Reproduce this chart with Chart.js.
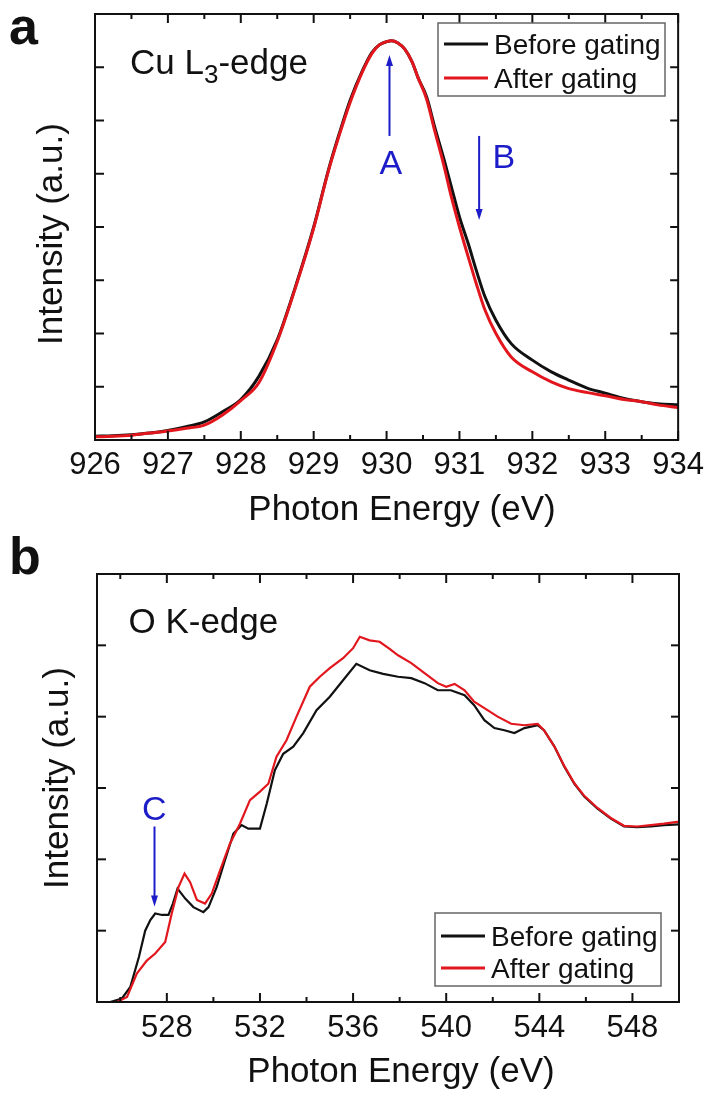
<!DOCTYPE html>
<html>
<head>
<meta charset="utf-8">
<script src="https://cdn.jsdelivr.net/npm/chart.js@4.4.1/dist/chart.umd.min.js"></script>
<style>
  html, body { margin: 0; padding: 0; background: #fff; }
  #wrap { position: relative; width: 711px; height: 1095px; }
  .panel { position: absolute; left: 0; width: 711px; }
  #pa { top: 0; height: 535px; }
  #pb { top: 535px; height: 560px; }
</style>
</head>
<body>
<div id="wrap">
  <div class="panel" id="pa"><canvas id="ca" width="711" height="535"></canvas></div>
  <div class="panel" id="pb"><canvas id="cb" width="711" height="560"></canvas></div>
</div>
<script>
// Panel a: Cu L3-edge
const ENERGY_A = [926.0, 926.25, 926.5, 926.75, 927.0, 927.25, 927.5, 927.75, 928.0, 928.25, 928.5, 928.75,
  929.0, 929.2, 929.35, 929.5, 929.67, 929.8, 929.9, 930.0, 930.07, 930.15, 930.25, 930.35, 930.43, 930.55,
  930.66, 930.78, 930.89, 931.0, 931.12, 931.23, 931.35, 931.5, 931.71, 932.0, 932.26, 932.49, 932.76, 933.0,
  933.26, 933.5, 933.72, 934.0];
const BEFORE_A = [0.07, 0.08, 0.10, 0.13, 0.18, 0.25, 0.34, 0.53, 0.76, 1.2, 1.88, 2.88,
  4.0, 5.06, 5.75, 6.38, 6.94, 7.28, 7.42, 7.48, 7.5, 7.46, 7.34, 7.1, 6.81, 6.44,
  5.88, 5.31, 4.75, 4.19, 3.69, 3.19, 2.69, 2.25, 1.81, 1.5, 1.28, 1.13, 0.97, 0.88,
  0.78, 0.72, 0.68, 0.66];
const AFTER_A = [0.06, 0.07, 0.09, 0.13, 0.17, 0.22, 0.28, 0.47, 0.74, 1.08, 1.85, 2.86,
  3.98, 5.04, 5.72, 6.34, 6.92, 7.26, 7.42, 7.48, 7.5, 7.46, 7.34, 7.1, 6.81, 6.4,
  5.81, 5.19, 4.56, 4.0, 3.44, 2.94, 2.44, 2.0, 1.56, 1.28, 1.09, 0.97, 0.89, 0.83,
  0.76, 0.72, 0.66, 0.61];
const X_MAJOR_A = [926, 927, 928, 929, 930, 931, 932, 933, 934];
const X_MINOR_A = [926.5, 927.5, 928.5, 929.5, 930.5, 931.5, 932.5, 933.5];
const Y_TICKS_A = [1, 2, 3, 4, 5, 6, 7];

// Panel b: O K-edge
const ENERGY_B_BEFORE = [525.0, 525.57, 526.07, 526.43, 526.8, 527.07, 527.29, 527.5, 527.79, 528.07, 528.26,
  528.46, 528.79, 529.14, 529.57, 529.79, 530.14, 530.5, 530.86, 531.21, 531.5, 532.0, 532.29, 532.64, 533.0,
  533.43, 533.86, 534.43, 535.0, 535.57, 536.14, 536.71, 537.29, 537.93, 538.5, 539.07, 539.64, 540.2, 540.79,
  541.2, 541.64, 542.07, 542.5, 542.93, 543.36, 543.93, 544.2, 544.65, 545.07, 545.5, 545.93, 546.5, 547.07,
  547.64, 548.2, 548.79, 549.36, 550.0];
const BEFORE_B = [0, 0, 0.05, 0.21, 0.63, 1.0, 1.15, 1.24, 1.22, 1.22, 1.38,
  1.59, 1.45, 1.33, 1.26, 1.33, 1.61, 1.99, 2.36, 2.48, 2.43, 2.43, 2.78, 3.25, 3.48,
  3.58, 3.77, 4.09, 4.28, 4.51, 4.74, 4.65, 4.6, 4.56, 4.54, 4.47, 4.37, 4.37, 4.3,
  4.16, 3.95, 3.84, 3.81, 3.77, 3.84, 3.88, 3.81, 3.58, 3.3, 3.06, 2.88, 2.71, 2.57,
  2.46, 2.45, 2.46, 2.48, 2.49];
const ENERGY_B_AFTER = [525.0, 525.86, 526.29, 526.71, 527.14, 527.5, 527.93, 528.21, 528.5, 528.76, 529.0,
  529.29, 529.64, 529.93, 530.29, 530.71, 531.14, 531.57, 532.0, 532.36, 532.71, 533.14, 533.57, 534.14,
  534.57, 535.0, 535.57, 536.0, 536.29, 536.71, 537.14, 537.57, 537.93, 538.5, 539.07, 539.64, 540.0, 540.36,
  540.79, 541.2, 541.64, 542.21, 542.79, 543.36, 543.93, 544.2, 544.65, 545.07, 545.5, 545.93, 546.5, 547.07,
  547.64, 548.2, 548.79, 549.36, 550.0];
const AFTER_B = [0, 0, 0.07, 0.4, 0.58, 0.68, 0.84, 1.24, 1.61, 1.8, 1.68,
  1.43, 1.38, 1.52, 1.85, 2.22, 2.5, 2.83, 2.95, 3.06, 3.44, 3.67, 4.0, 4.42,
  4.56, 4.68, 4.82, 4.96, 5.12, 5.07, 5.05, 4.95, 4.86, 4.75, 4.61, 4.47, 4.42, 4.46,
  4.37, 4.21, 4.12, 4.0, 3.9, 3.88, 3.9, 3.81, 3.58, 3.31, 3.07, 2.89, 2.72, 2.58,
  2.47, 2.46, 2.48, 2.5, 2.53];
const X_MAJOR_B = [528, 532, 536, 540, 544, 548];
const X_MINOR_B = [526, 530, 534, 538, 542, 546];
const Y_TICKS_B = [1, 2, 3, 4, 5];

const FONT = '"Liberation Sans", Arial, Helvetica, sans-serif';
const INK = '#111111';
const RED = '#e2171e';
const BLUE = '#1c1cc8';

const zip = (xs, ys) => xs.map((x, i) => ({ x, y: ys[i] }));

// axes box, inward ticks, titles, legend, arrows and labels
const framePlugin = {
  id: 'frame',
  afterDraw(chart, args, o) {
    const { ctx, chartArea: a, scales: { x, y } } = chart;
    ctx.save();
    ctx.strokeStyle = INK;
    ctx.lineWidth = 2;
    ctx.strokeRect(a.left, a.top, a.right - a.left, a.bottom - a.top);

    const tick = (px, py, dx, dy) => {
      ctx.beginPath();
      ctx.moveTo(px, py);
      ctx.lineTo(px + dx, py + dy);
      ctx.stroke();
    };
    o.xMajor.forEach((v) => {
      const px = x.getPixelForValue(v);
      tick(px, a.bottom, 0, -9);
      tick(px, a.top, 0, 9);
    });
    o.xMinor.forEach((v) => {
      const px = x.getPixelForValue(v);
      tick(px, a.bottom, 0, -5);
      tick(px, a.top, 0, 5);
    });
    o.yTicks.forEach((v) => {
      const py = y.getPixelForValue(v);
      tick(a.left, py, 9, 0);
      tick(a.right, py, -8, 0);
    });

    // axis titles
    ctx.fillStyle = INK;
    ctx.font = `35px ${FONT}`;
    ctx.textAlign = 'center';
    ctx.textBaseline = 'middle';
    ctx.fillText('Photon Energy (eV)', o.xTitle[0], o.xTitle[1]);
    ctx.save();
    ctx.translate(o.yTitle[0], o.yTitle[1]);
    ctx.rotate(-Math.PI / 2);
    ctx.fillText('Intensity (a.u.)', 0, 0);
    ctx.restore();

    // panel letter
    ctx.font = `bold 52px ${FONT}`;
    ctx.textBaseline = 'alphabetic';
    ctx.textAlign = 'left';
    ctx.fillText(o.letter, o.letterPos[0], o.letterPos[1]);

    // edge label, with optional subscript
    const lx = x.getPixelForValue(o.edge.x);
    const ly = y.getPixelForValue(o.edge.y);
    let cx = lx;
    o.edge.parts.forEach((p) => {
      ctx.font = p.sub ? `26px ${FONT}` : `35px ${FONT}`;
      ctx.fillText(p.t, cx, ly + (p.sub ? 9 : 0));
      cx += ctx.measureText(p.t).width;
    });

    // arrows
    ctx.strokeStyle = BLUE;
    ctx.fillStyle = BLUE;
    ctx.lineWidth = 2;
    o.arrows.forEach((ar) => {
      const px = x.getPixelForValue(ar.x);
      const p0 = y.getPixelForValue(ar.from);
      const p1 = y.getPixelForValue(ar.to);
      const dir = p1 < p0 ? -1 : 1;
      ctx.beginPath();
      ctx.moveTo(px, p0);
      ctx.lineTo(px, p1 - dir * 9);
      ctx.stroke();
      ctx.beginPath();
      ctx.moveTo(px, p1);
      ctx.lineTo(px - 3.5, p1 - dir * 11);
      ctx.lineTo(px + 3.5, p1 - dir * 11);
      ctx.closePath();
      ctx.fill();
    });
    ctx.font = `34px ${FONT}`;
    ctx.textAlign = 'center';
    o.marks.forEach((m) => {
      ctx.fillText(m.t, x.getPixelForValue(m.x), y.getPixelForValue(m.y) + 12);
    });

    // legend
    const L = o.legend;
    ctx.strokeStyle = '#666';
    ctx.lineWidth = 1.5;
    ctx.strokeRect(L.left, L.top, L.w, L.h);
    ctx.textAlign = 'left';
    ctx.font = `28px ${FONT}`;
    chart.data.datasets.forEach((ds, i) => {
      const ry = L.top + L.rows[i];
      ctx.strokeStyle = ds.borderColor;
      ctx.lineWidth = 3;
      ctx.beginPath();
      ctx.moveTo(L.left + 6, ry);
      ctx.lineTo(L.left + 50, ry);
      ctx.stroke();
      ctx.fillStyle = INK;
      ctx.fillText(ds.label, L.left + 56, ry + 10);
    });
    ctx.restore();
  },
};

function makePanel(canvas, p) {
  return new Chart(canvas, {
    type: 'line',
    data: {
      datasets: [
        { label: 'Before gating', data: p.before, borderColor: INK, borderWidth: p.lw, order: 2 },
        { label: 'After gating', data: p.after, borderColor: RED, borderWidth: p.lw, order: 1 },
      ],
    },
    options: {
      responsive: false,
      animation: false,
      events: [],
      elements: {
        point: { radius: 0 },
        line: { tension: p.tension, cubicInterpolationMode: p.mode, fill: false },
      },
      layout: { padding: p.pad },
      plugins: {
        legend: { display: false },
        tooltip: { enabled: false },
        frame: p.frame,
      },
      scales: {
        x: {
          type: 'linear',
          min: p.xmin,
          max: p.xmax,
          grid: { display: false, drawTicks: false },
          border: { display: false },
          afterBuildTicks: (s) => { s.ticks = p.frame.xMajor.map((v) => ({ value: v })); },
          afterFit: (s) => { s.height = p.xh; },
          ticks: {
            color: INK,
            font: { family: FONT, size: 31 },
            padding: p.tickPad,
            maxRotation: 0,
            autoSkip: false,
            callback: (v) => String(v),
          },
        },
        y: {
          min: 0,
          max: p.ymax,
          grid: { display: false, drawTicks: false },
          border: { display: false },
          ticks: { display: false },
          afterFit: (s) => { s.width = p.yw; },
        },
      },
    },
    plugins: [framePlugin],
  });
}

makePanel(document.getElementById('ca'), {
  before: zip(ENERGY_A, BEFORE_A),
  after: zip(ENERGY_A, AFTER_A),
  lw: 3,
  tension: 0.3,
  mode: 'monotone',
  xmin: 926, xmax: 934, ymax: 8,
  pad: { left: 0, right: 31, top: 14, bottom: 0 },
  xh: 95, yw: 95,
  tickPad: 7,
  frame: {
    xMajor: X_MAJOR_A, xMinor: X_MINOR_A, yTicks: Y_TICKS_A,
    xTitle: [402, 510], yTitle: [52, 234],
    letter: 'a', letterPos: [9, 44],
    edge: { x: 926.48, y: 6.88, parts: [{ t: 'Cu L' }, { t: '3', sub: true }, { t: '-edge' }] },
    arrows: [{ x: 930.04, from: 5.71, to: 7.23 }, { x: 931.27, from: 5.71, to: 4.13 }],
    marks: [{ t: 'A', x: 930.06, y: 5.22 }, { t: 'B', x: 931.61, y: 5.33 }],
    legend: { left: 438, top: 23, w: 227, h: 73, rows: [21, 55] },
  },
});

makePanel(document.getElementById('cb'), {
  before: zip(ENERGY_B_BEFORE, BEFORE_B),
  after: zip(ENERGY_B_AFTER, AFTER_B),
  lw: 2.2,
  tension: 0,
  mode: 'default',
  xmin: 525, xmax: 550, ymax: 6,
  pad: { left: 0, right: 32, top: 39, bottom: 0 },
  xh: 93, yw: 97,
  tickPad: 8,
  frame: {
    xMajor: X_MAJOR_B, xMinor: X_MINOR_B, yTicks: Y_TICKS_B,
    xTitle: [401, 537], yTitle: [58, 243],
    letter: 'b', letterPos: [9, 39],
    edge: { x: 526.35, y: 5.175, parts: [{ t: 'O K-edge' }] },
    arrows: [{ x: 527.47, from: 2.46, to: 1.34 }],
    marks: [{ t: 'C', x: 527.46, y: 2.72 }],
    legend: { left: 435, top: 378, w: 226, h: 73, rows: [23, 55] },
  },
});
</script>
</body>
</html>
